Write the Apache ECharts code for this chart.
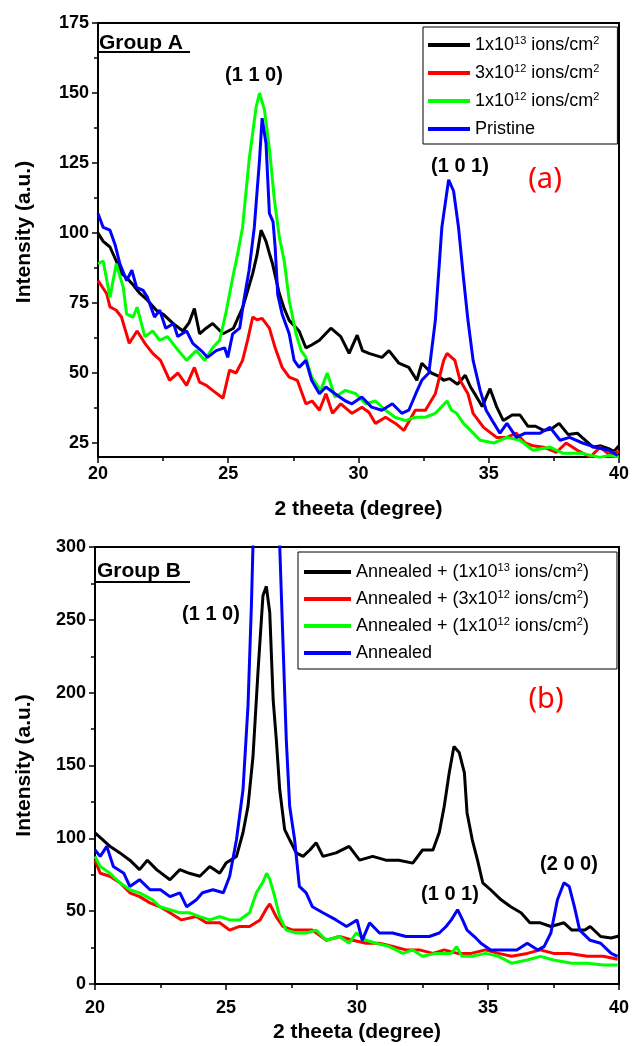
<!DOCTYPE html>
<html><head><meta charset="utf-8">
<script src="https://cdn.jsdelivr.net/npm/echarts@6/dist/echarts.min.js"></script>
<style>html,body{margin:0;padding:0;background:#fff}#c{width:632px;height:1046px}</style>
</head><body><div id="c"></div><script>
// ---- data (2theta, intensity) ----
const namesA = ['1x10{s|13} ions/cm{s|2}', '3x10{s|12} ions/cm{s|2}', '1x10{s|12} ions/cm{s|2}', 'Pristine'];
const namesB = ['Annealed + (1x10{s|13} ions/cm{s|2})', 'Annealed + (3x10{s|12} ions/cm{s|2})', 'Annealed + (1x10{s|12} ions/cm{s|2})', 'Annealed'];
const colors = ['#000000', '#ff0000', '#00ff00', '#0000ff'];
const xTicks = [20, 25, 30, 35, 40];
const topYTicks = [25, 50, 75, 100, 125, 150, 175];
const topYMinor = [37.5, 62.5, 87.5, 112.5, 137.5, 162.5];
const botYTicks = [0, 50, 100, 150, 200, 250, 300];

const topBlack = [[20.0,100],[20.2,97],[20.46,95],[20.7,90],[20.9,85.6],[21.1,84],[21.3,82],[21.6,78.5],[21.9,76],[22.24,72.4],[22.5,71],[22.88,67.7],[23.26,65],[23.5,68],[23.7,73],[23.9,64],[24.15,66],[24.4,67.7],[24.8,64],[25.2,66],[25.56,73.5],[25.94,85.6],[26.1,92],[26.26,101],[26.45,97],[26.58,92.7],[26.7,89],[26.96,78.4],[27.15,73],[27.34,68.8],[27.72,65],[27.98,59],[28.2,60],[28.5,61.7],[28.94,66],[29.32,63],[29.64,57],[29.95,63.5],[30.15,58],[30.4,57],[30.9,55.6],[31.17,58],[31.55,53.5],[31.93,52],[32.24,47.4],[32.43,53.5],[32.8,50],[33.05,49],[33.27,47.4],[33.5,48],[33.8,46],[34.1,49.2],[34.3,45],[34.5,42],[34.75,38],[35.05,44.4],[35.3,38],[35.56,33],[35.9,35],[36.2,35],[36.5,31],[36.8,31],[37.1,29.5],[37.4,30],[37.7,32],[38.05,28],[38.4,28.5],[38.7,26],[39.0,23.5],[39.3,24],[39.6,23],[39.8,22],[40.0,24]];
const topRed = [[20.0,83],[20.33,78.4],[20.46,73.6],[20.7,72.4],[20.9,70],[21.2,60.6],[21.5,65],[21.8,60.6],[22.1,57],[22.4,54.5],[22.75,47.4],[23.07,50],[23.4,45.6],[23.7,52],[23.9,46.7],[24.16,45.6],[24.4,43.8],[24.8,41],[25.05,51],[25.3,50],[25.55,54.5],[25.75,62],[25.94,70],[26.1,69],[26.3,69.5],[26.58,66],[26.8,59],[27.07,52],[27.34,48.5],[27.65,47.4],[27.98,39],[28.22,40],[28.5,36.7],[28.75,42.6],[29.0,35.6],[29.32,39],[29.75,35.6],[30.13,37.8],[30.4,36],[30.65,32],[31.04,34.2],[31.42,32],[31.74,29.5],[32.18,36.7],[32.57,36.7],[32.95,42.6],[33.27,54.5],[33.4,57],[33.7,54.5],[33.9,47.4],[34.2,42.6],[34.4,35.6],[34.8,30.6],[35.3,27],[35.7,27],[36.06,28.5],[36.4,25],[36.7,24],[37.1,23.5],[37.6,21.7],[37.97,25],[38.4,22.4],[38.9,20],[39.27,23.5],[39.6,21],[40.0,22]];
const topGreen = [[20.0,89],[20.2,90],[20.46,77],[20.7,89],[20.97,80.6],[21.1,71],[21.35,70],[21.5,73.5],[21.8,63],[22.1,65],[22.37,61.7],[22.67,63],[23.0,59],[23.4,54.5],[23.77,58],[24.1,54.5],[24.4,59],[24.67,61.7],[24.9,71],[25.17,84],[25.35,92],[25.55,102],[25.8,126],[26.07,145],[26.2,150],[26.39,144],[26.58,130],[26.77,112],[26.96,98.6],[27.15,90],[27.34,76],[27.6,64],[27.8,58],[27.98,55.6],[28.2,48.5],[28.55,43.8],[28.8,50],[29.1,41.4],[29.5,43.8],[29.9,42.6],[30.27,39],[30.65,40],[31.04,36.7],[31.4,34.2],[31.8,33],[32.18,34.2],[32.57,34.2],[32.95,35.6],[33.2,38],[33.4,40],[33.57,36.7],[33.77,35.6],[34.03,32],[34.3,29.5],[34.67,26],[35.2,25],[35.7,27],[36.2,26],[36.7,22.4],[37.35,23.5],[37.86,21.3],[38.6,21.3],[39.26,19.8],[39.6,20.5],[40.0,20]];
const topBlue = [[20.0,107],[20.2,102],[20.46,101],[20.65,96],[20.84,89],[21.1,83],[21.3,86.7],[21.48,80.6],[21.73,79.5],[21.9,77],[22.17,70],[22.37,72.4],[22.6,66],[22.9,67.7],[23.06,63],[23.4,65],[23.64,60.6],[23.96,58],[24.2,55.6],[24.54,58],[24.86,59],[24.98,55.6],[25.17,64],[25.44,66],[25.6,76],[25.8,86.7],[26.0,102],[26.2,126],[26.3,141],[26.45,132],[26.58,107],[26.72,104],[26.8,95],[26.9,78],[27.07,71],[27.34,64],[27.53,54.5],[27.72,52],[27.98,54.5],[28.2,47.4],[28.5,42.6],[28.75,45],[29.1,42.6],[29.5,40],[29.75,39],[30.13,41.4],[30.5,37.8],[30.9,36.7],[31.3,39],[31.66,35.6],[31.93,36.7],[32.2,42.6],[32.43,47.4],[32.7,50],[32.95,68.8],[33.2,102],[33.46,119],[33.65,115],[33.84,102],[34.03,84],[34.2,69],[34.4,54.5],[34.67,43.8],[34.9,36.7],[35.2,32],[35.43,28.5],[35.7,32],[36.06,27],[36.4,28.5],[36.97,28.5],[37.35,30.6],[37.74,26],[38.1,27],[38.6,25],[39.1,23.5],[39.6,22.4],[39.95,20.6]];

const botBlack = [[20.0,103.7],[20.3,99],[20.57,94.5],[20.95,90],[21.33,85],[21.7,78.5],[22.0,85],[22.35,78.5],[22.86,71.6],[23.24,78.5],[23.6,76],[24.0,74],[24.38,80.7],[24.76,76],[25.0,83],[25.4,87.6],[25.65,104],[25.84,122],[26.03,156],[26.22,214],[26.41,266.5],[26.54,273],[26.67,255],[26.8,195],[26.92,168],[27.05,133.5],[27.24,106],[27.43,99],[27.68,90],[27.94,87.6],[28.2,92],[28.44,97],[28.7,87.6],[29.2,90],[29.7,94.5],[30.1,85],[30.6,87.6],[31.1,85],[31.6,85],[32.13,83],[32.5,92],[32.9,92],[33.14,104],[33.33,122],[33.52,145],[33.7,163],[33.9,159],[34.1,145],[34.2,117.6],[34.4,99],[34.6,85],[34.8,69.5],[35.1,64.7],[35.5,57.8],[35.87,53],[36.26,48.9],[36.6,42],[37.0,42],[37.4,39.5],[37.9,42],[38.2,37],[38.7,37],[38.9,39.5],[39.3,32.6],[39.7,31.6],[40.0,33]];
const botRed = [[20.0,85],[20.2,76],[20.57,74],[20.95,69.5],[21.33,62.6],[21.7,60],[22.1,55.7],[22.48,53],[22.86,48.9],[23.3,44],[23.87,46.3],[24.25,42],[24.76,42],[25.14,37],[25.52,39.5],[25.9,39.5],[26.3,44],[26.55,52],[26.67,55],[26.92,46],[27.17,39.5],[27.55,37],[27.94,37],[28.3,37],[28.83,30],[29.33,32.6],[29.84,30],[30.35,28],[30.86,28],[31.37,25.7],[31.87,23.4],[32.38,23.4],[32.9,21],[33.33,23.4],[33.84,21],[34.36,21],[34.9,23.4],[35.4,21],[35.9,19],[36.5,21],[37.0,23.4],[37.5,21],[38.1,21],[38.8,19],[39.4,19],[39.95,17]];
const botGreen = [[20.0,87.6],[20.2,80.7],[20.57,76],[20.95,69.5],[21.33,64.7],[21.7,62.6],[22.2,57.8],[22.48,53],[22.86,51],[23.24,48.9],[23.6,48.9],[24.0,46.3],[24.38,44],[24.76,46.3],[25.14,44],[25.52,44],[25.9,48.9],[26.16,62.6],[26.41,70],[26.55,76],[26.67,72],[26.86,60],[27.05,46],[27.3,37],[27.68,35],[28.06,35],[28.44,37],[28.83,30],[29.33,32.6],[29.7,28],[29.97,35],[30.35,30],[30.73,28],[31.24,25.7],[31.75,21],[32.13,23.4],[32.5,19],[33.0,21],[33.4,21],[33.6,21],[33.8,25.7],[34.0,19],[34.4,19],[34.9,21],[35.4,19],[35.9,14.3],[36.5,16.5],[37.0,19],[37.5,16.5],[38.2,14.3],[38.8,14.3],[39.4,13],[39.95,13]];
const botBlue = [[20.0,92],[20.2,87.6],[20.45,94.5],[20.7,80.7],[21.1,76],[21.33,67],[21.7,71.6],[22.1,64.7],[22.5,64.7],[22.86,60],[23.24,62.6],[23.5,53],[23.87,57.8],[24.1,62.6],[24.5,64.7],[24.9,62.6],[25.14,74],[25.4,99],[25.65,133.5],[25.84,191],[25.97,260],[26.03,301],[26.2,400],[26.5,480],[26.8,420],[26.95,370],[27.05,301],[27.17,237],[27.3,168],[27.43,122],[27.62,99],[27.8,67],[28.06,62.6],[28.3,53],[28.7,48.9],[29.2,44],[29.6,39.5],[30.0,44],[30.2,30],[30.48,42],[30.86,35],[31.36,35],[31.87,32.6],[32.38,32.6],[32.76,32.6],[33.14,35],[33.4,39.5],[33.6,44],[33.84,51],[34.03,44],[34.2,37],[34.48,32.6],[34.73,28],[35.1,23.4],[35.6,23.4],[36.1,23.4],[36.5,28],[36.9,23.4],[37.14,25.7],[37.4,35],[37.65,57.8],[37.9,69.5],[38.1,67],[38.3,53],[38.5,37],[38.9,30],[39.3,28],[39.7,21],[39.95,19]];

const topData = [topBlack, topRed, topGreen, topBlue];
const botData = [botBlack, botRed, botGreen, botBlue];

// ---- styling ----
const FF = 'Liberation Sans, Arial, sans-serif';
const axisLineS = {show: true, lineStyle: {color: '#000', width: 2}};
const tickS = {show: true, inside: false, length: 6, lineStyle: {color: '#000', width: 1.5}};
const minorS = {show: true, splitNumber: 2, length: 4, lineStyle: {color: '#000', width: 1.5}};
const labelS = {color: '#000', fontSize: 18, fontWeight: 'bold', fontFamily: FF};
const nameS = {color: '#000', fontSize: 21, fontWeight: 'bold', fontFamily: FF};

function xAx(g, gap, margin) {
  return {gridIndex: g, type: 'value', min: xTicks[0], max: xTicks[xTicks.length - 1], interval: 5,
    axisLine: axisLineS, axisTick: tickS, minorTick: minorS,
    splitLine: {show: false}, minorSplitLine: {show: false},
    axisLabel: Object.assign({margin: margin}, labelS),
    name: '2 theeta (degree)', nameLocation: 'middle', nameGap: gap, nameTextStyle: nameS};
}

const chart = echarts.init(document.getElementById('c'), null, {renderer: 'canvas'});
const series = [];
topData.forEach((d, i) => series.push({name: namesA[i], type: 'line', xAxisIndex: 0, yAxisIndex: 0, data: d, showSymbol: false, symbol: 'none', lineStyle: {color: colors[i], width: 3}, itemStyle: {color: colors[i]}, z: 2 + i}));
botData.forEach((d, i) => series.push({name: namesB[i], type: 'line', xAxisIndex: 1, yAxisIndex: 2, data: d, showSymbol: false, symbol: 'none', lineStyle: {color: colors[i], width: 3}, itemStyle: {color: colors[i]}, z: 2 + i}));

const legendText = {fontSize: 18, fontFamily: FF, color: '#000', lineHeight: 20,
  rich: {s: {fontSize: 11, fontFamily: FF, color: '#000', verticalAlign: 'top', lineHeight: 11}}};

const txt = (t, x, y, font, fill, align) => ({type: 'text', x: x, y: y, z: 100,
  style: {text: t, font: font, fill: fill || '#000', align: align || 'center', verticalAlign: 'middle'}});
const uline = (x1, x2, y) => ({type: 'line', z: 100, shape: {x1: x1, y1: y, x2: x2, y2: y}, style: {stroke: '#000', lineWidth: 2}});
const hklFont = 'bold 20px ' + FF;
const tagFont = '29px Noto Sans, Open Sans, sans-serif';

chart.setOption({
  animation: false,
  backgroundColor: '#fff',
  grid: [
    {left: 98, top: 23, width: 523, height: 434, show: true, borderColor: '#000', borderWidth: 2, backgroundColor: 'transparent'},
    {left: 95, top: 547, width: 525, height: 437, show: true, borderColor: '#000', borderWidth: 2, backgroundColor: 'transparent'}
  ],
  xAxis: [xAx(0, 42, 8), xAx(1, 38, 15)],
  yAxis: [
    {gridIndex: 0, type: 'value', position: 'left', min: 20, max: 175, axisLine: axisLineS,
      axisTick: Object.assign({customValues: topYTicks}, tickS),
      axisLabel: Object.assign({customValues: topYTicks, margin: 9}, labelS),
      splitLine: {show: false},
      name: 'Intensity (a.u.)', nameLocation: 'middle', nameGap: 63, nameRotate: 90, nameTextStyle: Object.assign({padding: [0, 0, 0, 16]}, nameS)},
    {gridIndex: 0, type: 'value', position: 'left', offset: 0, min: 20, max: 175, axisLine: {show: false},
      axisTick: {show: true, customValues: topYMinor, length: 4, lineStyle: {color: '#000', width: 1.5}},
      axisLabel: {show: false}, splitLine: {show: false}},
    {gridIndex: 1, type: 'value', position: 'left', min: botYTicks[0], max: botYTicks[botYTicks.length - 1], interval: 50, axisLine: axisLineS,
      axisTick: tickS, minorTick: minorS, splitLine: {show: false}, minorSplitLine: {show: false},
      axisLabel: Object.assign({margin: 9}, labelS),
      name: 'Intensity (a.u.)', nameLocation: 'middle', nameGap: 60, nameRotate: 90, nameTextStyle: nameS}
  ],
  legend: [
    {data: namesA, left: 423, top: 27, orient: 'vertical', icon: 'rect', itemWidth: 42, itemHeight: 4, itemGap: 8,
      padding: [8, 18, 5, 5], borderColor: '#000', borderWidth: 1, selectedMode: false, textStyle: legendText},
    {data: namesB, left: 298, top: 552, orient: 'vertical', icon: 'rect', itemWidth: 47, itemHeight: 4, itemGap: 7,
      padding: [10, 28, 6, 6], borderColor: '#000', borderWidth: 1, selectedMode: false, textStyle: legendText}
  ],
  graphic: [
    txt('Group A', 99, 43, 'bold 21px ' + FF, '#000', 'left'), uline(98, 190, 52),
    txt('Group B', 97, 571, 'bold 21px ' + FF, '#000', 'left'), uline(96, 190, 582),
    txt('(1 1 0)', 254, 75, hklFont), txt('(1 0 1)', 460, 166, hklFont),
    txt('(a)', 545, 180, tagFont, '#ff0000'),
    txt('(1 1 0)', 211, 614, hklFont), txt('(b)', 546, 700, tagFont, '#ff0000'),
    txt('(2 0 0)', 569, 864, hklFont), txt('(1 0 1)', 450, 894, hklFont)
  ],
  series: series
});
</script></body></html>
